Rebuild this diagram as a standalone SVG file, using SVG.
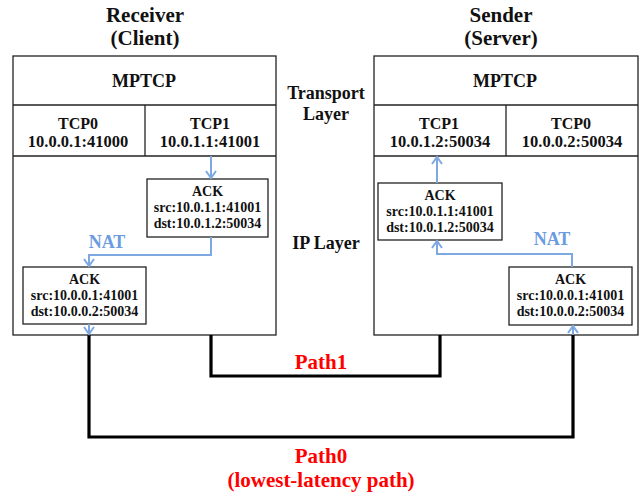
<svg xmlns="http://www.w3.org/2000/svg" width="644" height="496" viewBox="0 0 644 496">
<style>
text{font-family:"Liberation Serif","Times New Roman",serif;font-weight:bold;text-anchor:middle;fill:#111}
.box{fill:#fff;stroke:#222;stroke-width:1.3}
.ttl{font-size:21px}
.mp{font-size:18px}
.tcp{font-size:16px}
.addr{font-size:16.5px}
.lay{font-size:18px}
.ack{font-size:14px}
.nat{font-size:18px;fill:#6b9be0}
.red{font-size:21px;fill:#ff0000}
.blue{fill:none;stroke:#7ea8e2;stroke-width:2}
.path{fill:none;stroke:#000;stroke-width:3.2}
</style>
<defs>
<marker id="ah" viewBox="0 0 12 12" refX="10" refY="6" markerWidth="12" markerHeight="12" markerUnits="userSpaceOnUse" orient="auto">
<path d="M3,1 L10,6 L3,11" fill="none" stroke="#7ea8e2" stroke-width="2"/>
</marker>
</defs>

<g id="receiver">
<text class="ttl" x="145" y="22">Receiver</text>
<text class="ttl" x="145" y="45">(Client)</text>
<rect class="box" x="13" y="56" width="263" height="279"/>
<line class="box" x1="13" y1="105" x2="276" y2="105"/>
<line class="box" x1="13" y1="156" x2="276" y2="156"/>
<line class="box" x1="145" y1="105" x2="145" y2="156"/>
<text class="mp" x="144" y="87">MPTCP</text>
<text class="tcp" x="78" y="129">TCP0</text>
<text class="addr" x="78" y="147">10.0.0.1:41000</text>
<text class="tcp" x="210" y="129">TCP1</text>
<text class="addr" x="210" y="147">10.0.1.1:41001</text>
</g>

<g id="sender">
<text class="ttl" x="501" y="22">Sender</text>
<text class="ttl" x="501" y="45">(Server)</text>
<rect class="box" x="374" y="56" width="264" height="279"/>
<line class="box" x1="374" y1="105" x2="638" y2="105"/>
<line class="box" x1="374" y1="156" x2="638" y2="156"/>
<line class="box" x1="506" y1="105" x2="506" y2="156"/>
<text class="mp" x="505" y="87">MPTCP</text>
<text class="tcp" x="439" y="129">TCP1</text>
<text class="addr" x="440" y="147">10.0.1.2:50034</text>
<text class="tcp" x="571" y="129">TCP0</text>
<text class="addr" x="572" y="147">10.0.0.2:50034</text>
</g>

<g id="layers">
<text class="lay" x="326" y="99">Transport</text>
<text class="lay" x="326" y="120">Layer</text>
<text class="lay" x="326" y="249">IP Layer</text>
</g>

<g id="ack-r1">
<rect class="box" x="147" y="179" width="121" height="58"/>
<text class="ack" x="207.5" y="196">ACK</text>
<text class="ack" x="207.5" y="212">src:10.0.1.1:41001</text>
<text class="ack" x="207.5" y="228">dst:10.0.1.2:50034</text>
</g>
<g id="ack-r0">
<rect class="box" x="23" y="267" width="123" height="57"/>
<text class="ack" x="84.5" y="284">ACK</text>
<text class="ack" x="84.5" y="300">src:10.0.0.1:41001</text>
<text class="ack" x="84.5" y="316">dst:10.0.0.2:50034</text>
</g>
<g id="ack-s1">
<rect class="box" x="378" y="183" width="124" height="57"/>
<text class="ack" x="440" y="200">ACK</text>
<text class="ack" x="440" y="216">src:10.0.1.1:41001</text>
<text class="ack" x="440" y="232">dst:10.0.1.2:50034</text>
</g>
<g id="ack-s0">
<rect class="box" x="509" y="267" width="123" height="58"/>
<text class="ack" x="570.5" y="284">ACK</text>
<text class="ack" x="570.5" y="300">src:10.0.0.1:41001</text>
<text class="ack" x="570.5" y="316">dst:10.0.0.2:50034</text>
</g>

<g id="connectors">
<path class="path" d="M211,335 V376 H440 V335"/>
<path class="path" d="M89,335 V437 H573 V335"/>
<path class="blue" d="M211,156 V178" marker-end="url(#ah)"/>
<path class="blue" d="M211,237 V255 H89 V266" marker-end="url(#ah)"/>
<path class="blue" d="M89,324 V334" marker-end="url(#ah)"/>
<path class="blue" d="M573,335 V326" marker-end="url(#ah)"/>
<path class="blue" d="M572,267 V254 H437 V241" marker-end="url(#ah)"/>
<path class="blue" d="M437,183 V157" marker-end="url(#ah)"/>
<text class="nat" x="107" y="248">NAT</text>
<text class="nat" x="552" y="245">NAT</text>
<text class="red" x="321" y="369">Path1</text>
<text class="red" x="321" y="463">Path0</text>
<text class="red" x="321" y="487">(lowest-latency path)</text>
</g>
</svg>
